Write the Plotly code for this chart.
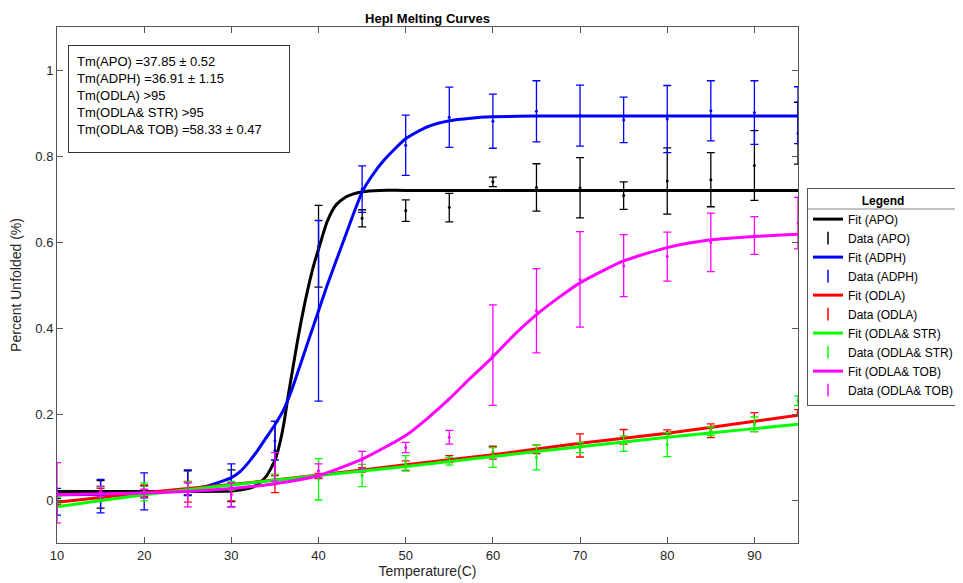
import plotly.graph_objects as go

# ---------------- data ----------------
temps = [10, 15, 20, 25, 30, 35, 40, 45, 50, 55, 60, 65, 70, 75, 80, 85, 90, 95]

apo_mean = [0.012, 0.013, 0.02, 0.04, 0.033, 0.115, 0.59, 0.655, 0.673, 0.68, 0.74, 0.727, 0.726, 0.708, 0.742, 0.745, 0.778, 0.853]
apo_err = [0.008, 0.032, 0.013, 0.028, 0.037, 0.068, 0.095, 0.02, 0.025, 0.033, 0.011, 0.055, 0.07, 0.032, 0.077, 0.063, 0.081, 0.072]

adph_mean = [-0.004, 0.009, 0.02, 0.04, 0.034, 0.138, 0.44, 0.723, 0.825, 0.89, 0.881, 0.904, 0.894, 0.884, 0.886, 0.905, 0.901, 0.895]
adph_err = [0.031, 0.039, 0.043, 0.03, 0.05, 0.045, 0.21, 0.054, 0.07, 0.07, 0.063, 0.071, 0.071, 0.053, 0.078, 0.07, 0.074, 0.066]

odla_mean = [0.0, 0.015, 0.02, 0.019, 0.019, 0.037, 0.056, 0.07, 0.08, 0.095, 0.11, 0.118, 0.127, 0.147, 0.158, 0.161, 0.181, 0.204]
odla_err = [0.01, 0.012, 0.015, 0.024, 0.021, 0.02, 0.006, 0.005, 0.011, 0.008, 0.015, 0.01, 0.027, 0.017, 0.005, 0.016, 0.022, 0.006]

str_mean = [0.0, 0.015, 0.019, 0.03, 0.033, 0.05, 0.048, 0.057, 0.085, 0.09, 0.099, 0.099, 0.122, 0.131, 0.129, 0.16, 0.176, 0.231]
str_err = [0.008, 0.015, 0.021, 0.012, 0.01, 0.01, 0.048, 0.026, 0.018, 0.009, 0.023, 0.029, 0.012, 0.018, 0.028, 0.01, 0.017, 0.011]

tob_mean = [0.017, 0.02, 0.015, 0.012, 0.012, 0.077, 0.068, 0.093, 0.122, 0.146, 0.337, 0.44, 0.513, 0.545, 0.566, 0.599, 0.615, 0.644]
tob_err = [0.07, 0.012, 0.01, 0.028, 0.028, 0.033, 0.016, 0.02, 0.012, 0.016, 0.117, 0.098, 0.111, 0.072, 0.057, 0.068, 0.044, 0.06]

# fitted curves
apo_fit_t = [10, 25, 30, 31, 32, 33, 34, 35, 35.5, 36, 36.5, 37, 37.5, 38, 38.5, 39, 39.5, 40, 40.5, 41, 42, 43, 44, 45, 47, 50, 95]
apo_fit_y = [0.02, 0.02, 0.021, 0.023, 0.027, 0.036, 0.055, 0.092, 0.127, 0.175, 0.24, 0.3, 0.36, 0.415, 0.465, 0.51, 0.55, 0.583, 0.617, 0.648, 0.686, 0.703, 0.712, 0.717, 0.72, 0.72, 0.72]

adph_fit_t = [10, 15, 20, 25, 27.5, 30, 31, 32, 33, 34, 35, 36, 37, 38, 39, 40, 41, 42, 43, 44, 45, 46, 47.5, 50, 52.5, 55, 57.5, 60, 65, 95]
adph_fit_y = [0.012, 0.013, 0.016, 0.025, 0.034, 0.052, 0.066, 0.088, 0.115, 0.145, 0.175, 0.21, 0.26, 0.32, 0.38, 0.44, 0.5, 0.555, 0.61, 0.665, 0.716, 0.75, 0.79, 0.84, 0.868, 0.882, 0.888, 0.891, 0.893, 0.893]

odla_fit_t = [10, 20, 30, 40, 50, 60, 70, 80, 90, 95]
odla_fit_y = [-0.005, 0.017, 0.036, 0.058, 0.082, 0.105, 0.132, 0.155, 0.183, 0.197]

str_fit_t = [10, 20, 30, 40, 50, 60, 70, 80, 90, 95]
str_fit_y = [-0.016, 0.012, 0.035, 0.057, 0.078, 0.101, 0.124, 0.146, 0.166, 0.176]

tob_fit_t = [10, 20, 25, 30, 35, 40, 45, 50, 52.5, 55, 57.5, 60, 62.5, 65, 67.5, 70, 75, 80, 85, 90, 95]
tob_fit_y = [0.012, 0.016, 0.02, 0.027, 0.038, 0.057, 0.095, 0.15, 0.19, 0.235, 0.285, 0.333, 0.385, 0.431, 0.47, 0.505, 0.556, 0.587, 0.605, 0.613, 0.618]

series = [
    ("APO", "#000000", apo_fit_t, apo_fit_y, apo_mean, apo_err),
    ("ADPH", "#0000FF", adph_fit_t, adph_fit_y, adph_mean, adph_err),
    ("ODLA", "#FF0000", odla_fit_t, odla_fit_y, odla_mean, odla_err),
    ("ODLA& STR", "#00FF00", str_fit_t, str_fit_y, str_mean, str_err),
    ("ODLA& TOB", "#FF00FF", tob_fit_t, tob_fit_y, tob_mean, tob_err),
]

annotation_lines = [
    "Tm(APO) =37.85 ± 0.52",
    "Tm(ADPH) =36.91 ± 1.15",
    "Tm(ODLA) >95",
    "Tm(ODLA& STR) >95",
    "Tm(ODLA& TOB) =58.33 ± 0.47",
]

FONT = "Liberation Sans, Arial, Helvetica, sans-serif"

# page has an 8px body margin -> figure is 8px smaller than the window
W, H = 955, 575
L, R, T, B = 49, 165, 19, 40
PW, PH = W - L - R, H - T - B

fig = go.Figure()
for name, color, ft, fy, dm, de in series:
    fig.add_trace(go.Scatter(
        x=ft, y=fy, mode="lines", name=f"Fit ({name})",
        line=dict(color=color, width=3, shape="spline", smoothing=0.6),
    ))
    fig.add_trace(go.Scatter(
        x=temps, y=dm, mode="markers", name=f"Data ({name})", showlegend=False,
        marker=dict(color=color, size=3),
        error_y=dict(type="data", array=de, visible=True, color=color, thickness=1.3, width=4),
    ))
    # legend entry for data (error-bar glyph)
    fig.add_trace(go.Scatter(
        x=[None], y=[None], mode="markers", name=f"Data ({name})",
        marker=dict(color=color, symbol="line-ns-open", size=9, line=dict(color=color, width=1.5)),
    ))

leg_top_px = 180  # figure px
fig.update_layout(
    width=W, height=H,
    paper_bgcolor="white", plot_bgcolor="white",
    margin=dict(l=L, r=R, t=T, b=B, autoexpand=False),
    font=dict(family=FONT, size=13, color="#262626"),
    title=dict(text="<b>Hepl Melting Curves</b>", x=(L + PW / 2) / W, xanchor="center",
               y=1 - 10 / H, yanchor="middle", font=dict(size=13, color="#000000")),
    xaxis=dict(range=[10, 95], tickvals=[10, 20, 30, 40, 50, 60, 70, 80, 90],
               showline=True, linecolor="#555555", linewidth=1, mirror="ticks",
               ticks="inside", ticklen=6, tickcolor="#555555", showgrid=False, zeroline=False,
               title=dict(text="Temperature(C)", standoff=4, font=dict(size=14)),
               tickfont=dict(size=13)),
    yaxis=dict(range=[-0.1, 1.1], tickvals=[0, 0.2, 0.4, 0.6, 0.8, 1],
               ticktext=["0", "0.2", "0.4", "0.6", "0.8", "1"],
               showline=True, linecolor="#555555", linewidth=1, mirror="ticks",
               ticks="inside", ticklen=6, tickcolor="#555555", showgrid=False, zeroline=False,
               title=dict(text="Percent Unfolded (%)", standoff=10, font=dict(size=14)),
               tickfont=dict(size=13)),
    legend=dict(x=(799 - L) / PW, xanchor="left", y=(T + PH - leg_top_px) / PH, yanchor="top",
                bgcolor="rgba(255,255,255,0)", bordercolor="#555555", borderwidth=1,
                font=dict(size=12, color="#000000"),
                title=dict(text="<b>Legend</b>", side="top center", font=dict(size=12)),
                tracegroupgap=0, itemwidth=30),
    showlegend=True,
)

# separator under legend title
sep_y = (T + PH - (leg_top_px + 21)) / PH
fig.add_shape(type="line", xref="paper", yref="paper",
              x0=(799 - L) / PW, x1=(W - L) / PW, y0=sep_y, y1=sep_y,
              line=dict(color="#888888", width=1))

fig.add_annotation(
    text="<br>".join(annotation_lines),
    xref="paper", yref="paper", x=(60 - L) / PW, y=(T + PH - 37) / PH,
    xanchor="left", yanchor="top", align="left", valign="top",
    showarrow=False, bordercolor="#333333", borderwidth=1, borderpad=8,
    bgcolor="white", width=204, height=90,
    font=dict(size=13, color="#000000"),
)

fig.write_html("out.html")
